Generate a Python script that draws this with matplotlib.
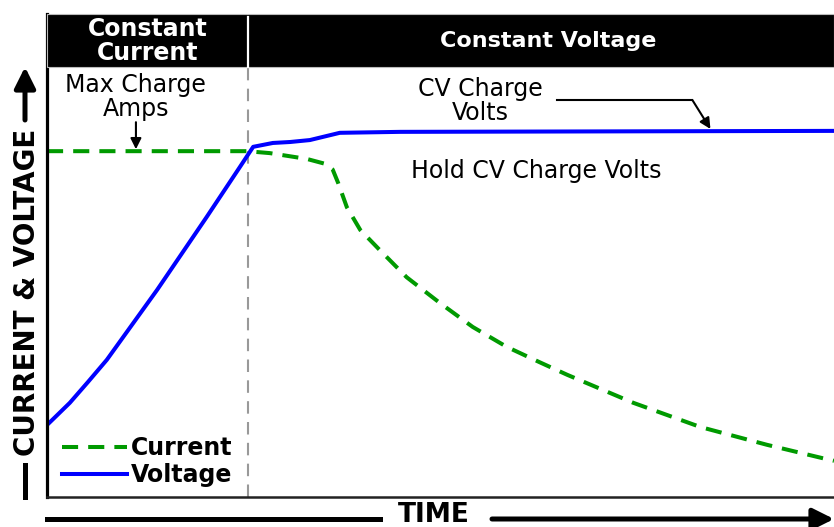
import matplotlib
matplotlib.use("Agg")
import matplotlib.pyplot as plt
from matplotlib.patches import Rectangle
from matplotlib.lines import Line2D

# charge profile (time in % of window, level in % of plot height)
volt_t = [0, 2.9, 5.2, 7.6, 14.0, 20.3, 24.5, 26.2, 28.7, 30.9, 33.4, 37.2, 44.9, 100]
volt_v = [14.9, 19.5, 23.8, 28.4, 42.9, 58.0, 68.3, 72.5, 73.3, 73.5, 73.9, 75.4, 75.6, 75.8]

curr_t = [0, 25.4, 28.3, 33.0, 35.3, 36.3, 37.0, 38.1, 39.8, 42.3, 45.7, 49.9, 54.1,
          58.4, 62.6, 66.1, 74.5, 83.0, 91.5, 98.9, 100]
curr_v = [71.6, 71.6, 71.2, 70.0, 69.0, 67.8, 65.0, 60.0, 55.3, 51.1, 45.5, 40.2, 35.2,
          31.1, 27.9, 25.3, 19.5, 14.5, 10.8, 7.9, 7.5]

phase_split = 25.5
phase_names = ["Constant\nCurrent", "Constant Voltage"]

green = "#009a00"
blue = "#0000ff"

fig = plt.figure(figsize=(8.34, 5.27), dpi=100)
ax = fig.add_axes([47 / 834, 30 / 527, 787 / 834, 483 / 527])
ax.set_xlim(0, 100)
ax.set_ylim(0, 100)
ax.set_xticks([])
ax.set_yticks([])
for s in ["top", "right"]:
    ax.spines[s].set_visible(False)
ax.spines["left"].set_linewidth(2.3)
ax.spines["left"].set_color("black")
ax.spines["bottom"].set_linewidth(1.8)
ax.spines["bottom"].set_color("#222222")

# header band
ax.add_patch(Rectangle((0, 89), 100, 11, facecolor="black", edgecolor="#bbbbbb",
                       lw=0.8, clip_on=False, zorder=3))
ax.plot([phase_split, phase_split], [89, 99.4], color="white", lw=1.6, zorder=4,
        clip_on=False)
ax.text(12.8, 94.5, phase_names[0], color="white", fontsize=17, fontweight="bold",
        ha="center", va="center", linespacing=1.0, zorder=5)
ax.text(63.7, 94.4, phase_names[1], color="white", fontsize=16, fontweight="bold",
        ha="center", va="center", zorder=5)

# phase divider
ax.plot([phase_split, phase_split], [0, 89], color="#999999", lw=1.5,
        dashes=(6, 4), zorder=1)

ax.plot(curr_t, curr_v, color=green, lw=2.9, dashes=(4, 2.5), label="Current",
        zorder=2)
ax.plot(volt_t, volt_v, color=blue, lw=2.9, label="Voltage", zorder=2,
        solid_joinstyle="round")

# annotations
ax.text(11.3, 82.9, "Max Charge\nAmps", fontsize=17, ha="center", va="center",
        linespacing=1.0)
ax.annotate("", xy=(11.3, 72.0), xytext=(11.3, 77.6),
            arrowprops=dict(arrowstyle="-|>", color="black", lw=1.5,
                            mutation_scale=16, shrinkA=0, shrinkB=0))
ax.text(55.1, 82.0, "CV Charge\nVolts", fontsize=17, ha="center", va="center",
        linespacing=1.0)
ax.plot([64.8, 82.0], [82.2, 82.2], color="black", lw=1.5)
ax.annotate("", xy=(84.3, 76.2), xytext=(82.0, 82.2),
            arrowprops=dict(arrowstyle="-|>", color="black", lw=1.5,
                            mutation_scale=16, shrinkA=0, shrinkB=0))
ax.text(46.3, 67.5, "Hold CV Charge Volts", fontsize=17, ha="left", va="center")

leg = ax.legend(loc="lower left", bbox_to_anchor=(0.019, 0.021), frameon=False,
                prop={"weight": "bold", "size": 17}, handlelength=2.75,
                handletextpad=0.15, labelspacing=0.1, borderpad=0,
                borderaxespad=0)

# axis titles with arrows (figure pixel coordinates)
fig.text(27 / 834, 1 - 292 / 527, "CURRENT & VOLTAGE", rotation=90, fontsize=20,
         fontweight="bold", ha="center", va="center")
fig.add_artist(Line2D([25 / 834, 25 / 834], [1 - 465 / 527, 1 - 497 / 527],
                      color="black", lw=3.6, transform=fig.transFigure))
ax.annotate("", xy=(25, 527 - 67), xytext=(25, 527 - 120), xycoords="figure pixels",
            textcoords="figure pixels",
            arrowprops=dict(arrowstyle="-|>,head_width=0.45,head_length=0.9",
                            color="black", lw=3.6, shrinkA=0, shrinkB=0,
                            mutation_scale=14))

fig.text(434 / 834, 1 - 515 / 527, "TIME", fontsize=19, fontweight="bold",
         ha="center", va="center")
fig.add_artist(Line2D([47 / 834, 380 / 834], [1 - 519 / 527, 1 - 519 / 527],
                      color="black", lw=3.6, transform=fig.transFigure))
ax.annotate("", xy=(834, 527 - 519), xytext=(492, 527 - 519),
            xycoords="figure pixels", textcoords="figure pixels",
            arrowprops=dict(arrowstyle="-|>,head_width=0.45,head_length=0.9",
                            color="black", lw=3.6, shrinkA=0, shrinkB=0,
                            mutation_scale=14))

fig.savefig("out.png", dpi=100)
